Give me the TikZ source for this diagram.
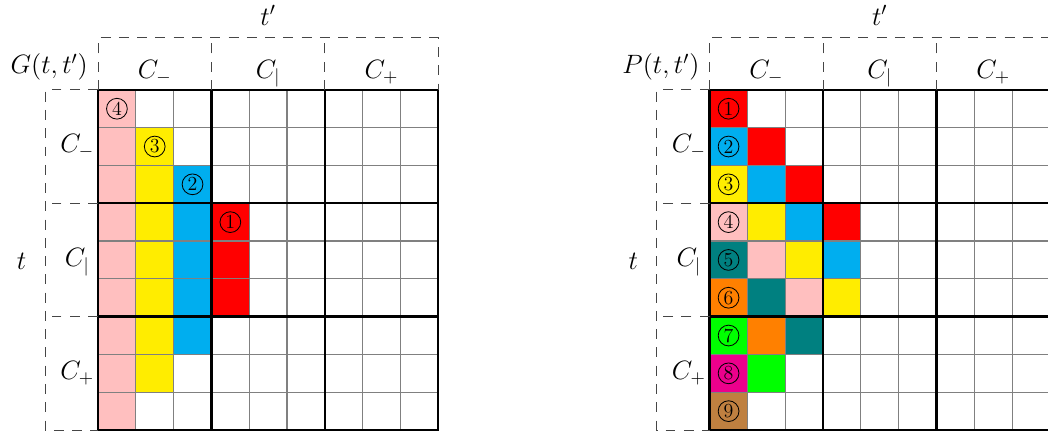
\documentclass[tikz,border=0pt]{standalone}
\usepackage{tikz}
\usetikzlibrary{positioning}
\definecolor{cpink}{RGB}{255,191,191}
\definecolor{cyellow}{RGB}{255,237,0}
\definecolor{ccyan}{RGB}{0,174,239}
\definecolor{cred}{RGB}{255,0,0}
\definecolor{cteal}{RGB}{0,128,128}
\definecolor{corange}{RGB}{255,128,0}
\definecolor{cgreen}{RGB}{0,255,0}
\definecolor{cmagenta}{RGB}{236,0,140}
\definecolor{cbrown}{RGB}{191,128,64}
\definecolor{dashgray}{RGB}{70,70,70}

\begin{document}
\begin{tikzpicture}[x=0.8cm,y=0.8cm,
  fine/.style={draw=gray,line width=0.7pt},
  block/.style={draw=black,line width=1.5pt},
  frame/.style={draw=dashgray,line width=0.6pt,dash pattern=on 6pt off 5pt},
  lbl/.style={inner sep=0pt,anchor=base,font=\Large,scale=1.11},
  num/.style={circle,draw=black,line width=0.5pt,inner sep=0pt,minimum size=12.5pt,font=\large},
]
\useasboundingbox (-2.593,-0.132) rectangle (25.13,11.376);

% G: one column per colour
\fill[cpink] (0,0) rectangle (1,9);
\fill[cyellow] (1,1) rectangle (2,8);
\fill[ccyan] (2,2) rectangle (3,7);
\fill[cred] (3,3) rectangle (4,6);

% P: one diagonal per colour
\foreach \n/\col/\last in {1/cred/3,2/ccyan/3,3/cyellow/3,4/cpink/2,5/cteal/2,6/corange/1,7/cgreen/1,8/cmagenta/0,9/cbrown/0}
  \foreach \c in {0,...,\last}
    \fill[\col] ({16.18+\c},{9-\c-\n}) rectangle ++(1,1);

% grids, dashed headers and labels
\foreach \s/\m in {0/G,16.18/P} {
\begin{scope}[shift={(\s,0)}]
  \foreach \i in {1,2,4,5,7,8} {
    \draw[fine] (\i,0) -- (\i,9);
    \draw[fine] (0,\i) -- (9,\i);
  }
  \foreach \i in {3,6} {
    \draw[block] (\i,0) -- (\i,9);
    \draw[block] (0,\i) -- (9,\i);
  }
  \draw[block] (0,0) rectangle (9,9);
  \draw[frame] (0,9) -- (0,10.38) -- (9,10.38) -- (9,9);
  \draw[frame] (3,9) -- (3,10.38) (6,9) -- (6,10.38);
  \draw[frame] (0,9) -- (-1.4,9) -- (-1.4,0) -- (0,0);
  \draw[frame] (0,6) -- (-1.4,6) (0,3) -- (-1.4,3);
  \node[lbl] (\m-tp) at (4.5,10.71) {$t'$};
  \node[lbl,anchor=base east] (\m-fn) at (-0.26,9.42) {$\m(t,t')$};
  \node[lbl] (\m-hm) at (1.5,9.31) {$C_-$};
  \node[lbl] (\m-hb) at (4.5,9.31) {$C_|$};
  \node[lbl] (\m-hp) at (7.5,9.31) {$C_+$};
  \node[lbl] (\m-t) at (-2.02,4.24) {$t$};
  \node[lbl] (\m-vm) at (-0.55,7.33) {$C_-$};
  \node[lbl] (\m-vb) at (-0.55,4.33) {$C_|$};
  \node[lbl] (\m-vp) at (-0.55,1.33) {$C_+$};
\end{scope}
}

% circled numbers
\foreach \n/\c in {4/0,3/1,2/2,1/3}
  \node[num] (g\n) at ({\c+0.5},{8.5-\c}) {\n};
\foreach \n in {1,...,9}
  \node[num] (p\n) at (16.68,{9.5-\n}) {\n};
\end{tikzpicture}
\end{document}
